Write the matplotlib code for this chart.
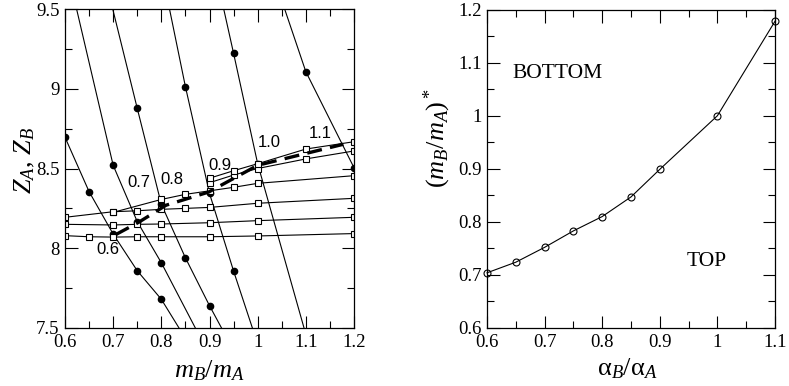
import numpy as np
import matplotlib
matplotlib.use("Agg")
import matplotlib.pyplot as plt
from matplotlib.ticker import MultipleLocator, FuncFormatter

plt.rcParams['font.family'] = ['Liberation Serif', 'DejaVu Serif']
plt.rcParams['mathtext.fontset'] = 'custom'
plt.rcParams['mathtext.rm'] = 'Liberation Serif'
plt.rcParams['mathtext.it'] = 'Liberation Serif:italic'

# левая панель: Z_A (закрашенные точки) для разных alpha_B/alpha_A
alpha_lbl = ['0.6', '0.7', '0.8', '0.9', '1.0', '1.1']
za_m = [
    [0.6, 0.65, 0.7, 0.75, 0.8, 0.85],
    [0.6, 0.7, 0.75, 0.8, 0.9],
    [0.65, 0.75, 0.8, 0.85, 0.9, 0.95],
    [0.8, 0.85, 0.9, 0.95, 1.0],
    [0.9, 0.95, 1.0, 1.1],
    [1.0, 1.1, 1.2],
]
za_z = [
    [8.696, 8.355, 8.089, 7.859, 7.68, 7.435],
    [9.81, 8.52, 8.167, 7.909, 7.33],
    [10.1, 8.877, 8.276, 7.94, 7.64, 7.36],
    [9.75, 9.013, 8.344, 7.857, 7.40],
    [9.9, 9.222, 8.53, 7.46],
    [10.0, 9.107, 8.505],
]

# Z_B (пустые квадраты)
zb_m = [
    [0.6, 0.65, 0.7, 0.75, 0.8, 0.9, 1.0, 1.2],
    [0.6, 0.7, 0.75, 0.8, 0.9, 1.0, 1.2],
    [0.6, 0.7, 0.75, 0.8, 0.85, 0.9, 1.0, 1.2],
    [0.7, 0.8, 0.85, 0.9, 0.95, 1.0, 1.2],
    [0.9, 0.95, 1.0, 1.1, 1.2],
    [0.9, 0.95, 1.0, 1.1, 1.2],
]
zb_z = [
    [8.079, 8.072, 8.07, 8.072, 8.072, 8.072, 8.077, 8.092],
    [8.150, 8.146, 8.15, 8.152, 8.160, 8.173, 8.194],
    [8.194, 8.229, 8.235, 8.244, 8.25, 8.256, 8.282, 8.313],
    [8.225, 8.306, 8.338, 8.36, 8.382, 8.407, 8.455],
    [8.411, 8.459, 8.50, 8.56, 8.61],
    [8.439, 8.486, 8.53, 8.622, 8.668],
]

# точки пересечения (пунктир)
cross_m = [0.705, 0.753, 0.81, 0.898, 1.0, 1.178]
cross_z = [8.085, 8.163, 8.27, 8.352, 8.52, 8.652]
lbl_pos = [(0.69, 7.99), (0.754, 8.41), (0.822, 8.43), (0.922, 8.52), (1.024, 8.666), (1.13, 8.72)]

# правая панель
ratio_alpha = [0.6, 0.65, 0.7, 0.75, 0.8, 0.85, 0.9, 1.0, 1.1]
ratio_m = [0.704, 0.724, 0.752, 0.783, 0.81, 0.847, 0.899, 1.0, 1.178]

fig = plt.figure(figsize=(7.89, 3.86), dpi=100)
ax1 = fig.add_axes([65/789, 58/386, 289/789, 319/386])
ax2 = fig.add_axes([487/789, 58/386, 288/789, 318.4/386])

for m, z in zip(za_m, za_z):
    ax1.plot(m, z, '-o', color='k', lw=0.8, ms=4.5, mfc='k', mec='k')
for m, z in zip(zb_m, zb_z):
    ax1.plot(m, z, '-s', color='k', lw=0.8, ms=4.2, mfc='white', mec='k', mew=0.8)
ax1.plot(cross_m, cross_z, '--', color='k', lw=2.4, dashes=(4.5, 2.5))
for t, (x, y) in zip(alpha_lbl, lbl_pos):
    ax1.text(x, y, t, family='Liberation Sans', fontsize=12, ha='center', va='center')

ax1.set_xlim(0.6, 1.2)
ax1.set_ylim(7.5, 9.5)
ax1.xaxis.set_major_locator(MultipleLocator(0.1))
ax1.xaxis.set_minor_locator(MultipleLocator(0.05))
ax1.yaxis.set_major_locator(MultipleLocator(0.5))
ax1.yaxis.set_minor_locator(MultipleLocator(0.25))
ax1.set_xlabel(r'$m_B/m_A$', fontsize=19)
ax1.set_ylabel(r'$Z_A$, $Z_B$', fontsize=19)
ax1.xaxis.set_label_coords(0.5, -0.135)
ax1.yaxis.set_label_coords(-0.14, 0.527)

ax2.plot(ratio_alpha, ratio_m, '-o', color='k', lw=0.8, ms=5, mfc='none', mec='k', mew=0.8, clip_on=False)
ax2.text(0.645, 1.08, 'BOTTOM', fontsize=15.5, va='center')
ax2.text(0.946, 0.726, 'TOP', fontsize=15.5, va='center')
ax2.set_xlim(0.6, 1.1)
ax2.set_ylim(0.6, 1.2)
ax2.xaxis.set_major_locator(MultipleLocator(0.1))
ax2.xaxis.set_minor_locator(MultipleLocator(0.05))
ax2.yaxis.set_major_locator(MultipleLocator(0.1))
ax2.yaxis.set_minor_locator(MultipleLocator(0.05))
ax2.set_xlabel('α$_B$/α$_A$', fontsize=19)
ax2.set_ylabel(r'$(m_B/m_A)^*$', fontsize=19)
ax2.xaxis.set_label_coords(0.486, -0.127)
ax2.yaxis.set_label_coords(-0.174, 0.597)

fmt = FuncFormatter(lambda v, p: '%g' % round(v, 3))
for ax in (ax1, ax2):
    ax.xaxis.set_major_formatter(fmt)
    ax.yaxis.set_major_formatter(fmt)
    ax.tick_params(which='both', direction='in', top=True, right=True, width=0.8, labelsize=13.5)
    ax.tick_params(which='major', length=9, pad=4)
    ax.tick_params(which='minor', length=5)
    ax.xaxis.label.set_verticalalignment('center')
    ax.yaxis.label.set_verticalalignment('center')
    for s in ax.spines.values():
        s.set_linewidth(0.9)

fig.savefig('out.png', dpi=100)
